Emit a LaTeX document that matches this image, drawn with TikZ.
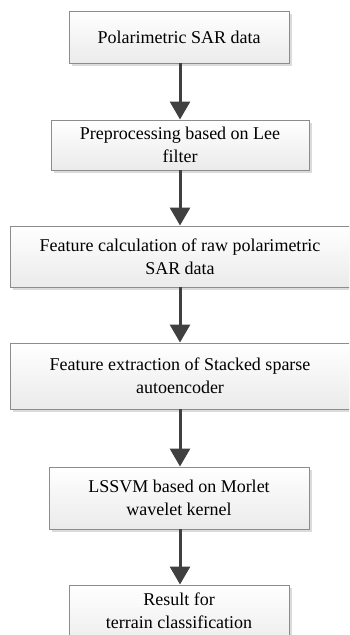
\documentclass[tikz,border=0pt]{standalone}
\usepackage{fontspec}
\setmainfont{Liberation Serif}
\usetikzlibrary{arrows.meta,shadows}
\begin{document}
\begin{tikzpicture}[x=1pt,y=-1pt,
  box/.style={draw=black!45, line width=0.9pt, top color=white, bottom color=black!8,
    drop shadow={shadow xshift=3pt, shadow yshift=-3pt, fill=black!14, opacity=1},
    align=center, font=\fontsize{18}{23}\selectfont, inner sep=0pt, outer sep=0pt},
  flow/.style={draw=black!75, line width=3pt, -{Triangle[width=20pt,length=18pt]}, shorten >=0.5pt}]
\clip (0,0) rectangle (349,635);
\fill[white] (0,0) rectangle (349,635);
\node[box, minimum width=220pt, minimum height=52pt] (b1) at (179,37) {Polarimetric SAR data};
\node[box, minimum width=258pt, minimum height=50pt] (b2) at (180,145) {Preprocessing based on Lee\\filter};
\node[box, minimum width=350pt, minimum height=61pt] (b3) at (185,256.5) {};
\node at (180,256.5) [align=center, font=\fontsize{18}{23}\selectfont] (t3) {Feature calculation of raw polarimetric\\SAR data};
\node[box, minimum width=350pt, minimum height=66pt] (b4) at (185,376) {};
\node at (180,376) [align=center, font=\fontsize{18}{23}\selectfont] (t4) {Feature extraction of Stacked sparse\\autoencoder};
\node[box, minimum width=260pt, minimum height=62pt] (b5) at (179,498) {LSSVM based on Morlet\\wavelet kernel};
\node[box, minimum width=220pt, minimum height=66pt, anchor=north] (b6) at (179,585) {};
\node at (179,611) [align=center, font=\fontsize{18}{23}\selectfont] (t6) {Result for\\terrain classification};
\draw[flow] (b1.south -| 180,0) -- (b2.north -| 180,0);
\draw[flow] (b2.south -| 180,0) -- (b3.north -| 180,0);
\draw[flow] (b3.south -| 180,0) -- (b4.north -| 180,0);
\draw[flow] (b4.south -| 180,0) -- (b5.north -| 180,0);
\draw[flow] (b5.south -| 180,0) -- (b6.north -| 180,0);
\end{tikzpicture}
\end{document}
